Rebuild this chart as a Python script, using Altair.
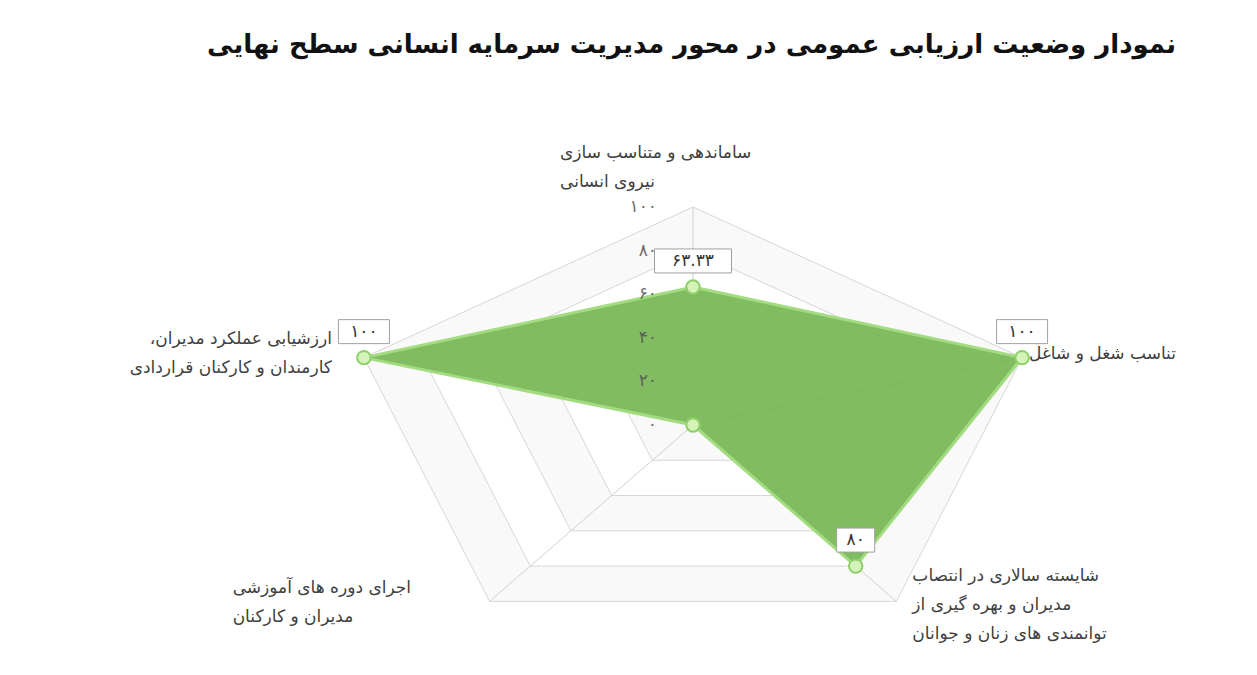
import altair as alt
import pandas as pd

# ---------------- data ----------------
title_text = "نمودار وضعیت ارزیابی  عمومی در محور مدیریت سرمایه انسانی سطح نهایی"
categories = [
    "ساماندهی و متناسب سازی نیروی انسانی",
    "تناسب شغل و شاغل",
    "شایسته سالاری در انتصاب مدیران و بهره گیری از توانمندی های زنان و جوانان",
    "اجرای دوره های آموزشی مدیران و کارکنان",
    "ارزشیابی عملکرد مدیران، کارمندان و کارکنان قراردادی",
]
category_lines = [
    ["ساماندهی و متناسب سازی", "نیروی انسانی"],
    ["تناسب شغل و شاغل"],
    ["شایسته سالاری در انتصاب", "مدیران و بهره گیری از", "توانمندی های زنان و جوانان"],
    ["اجرای دوره های آموزشی", "مدیران و کارکنان"],
    ["ارزشیابی عملکرد مدیران،\u200f", "کارمندان و کارکنان قراردادی"],
]
values = [63.33, 100, 80, 0, 100]
ticks = [0, 20, 40, 60, 80, 100]
rings = [20, 40, 60, 80, 100]

FA = str.maketrans("0123456789", "۰۱۲۳۴۵۶۷۸۹")


def to_fa(v):
    return f"{v:g}".translate(FA)


n = len(categories)
pts = pd.DataFrame({
    "idx": list(range(n)),
    "category": categories,
    "value": values,
    "vlabel": [to_fa(v) for v in values],
    "catlabel": ["\n".join(l) for l in category_lines],
})
grid = pd.DataFrame([{"ring": r, "idx": i} for r in rings for i in range(n)])
tick_df = pd.DataFrame({"tick": ticks, "tlabel": [to_fa(t) for t in ticks]})

# ---------------- layout ----------------
W, H = 1240, 655
cx, cy = 685, 417          # centre in svg pixels
kx, ky = 3.46, 2.18        # pixels per unit (chart is stretched horizontally)
xdom = [-cx / kx, (W - cx) / kx]
ydom = [-(H - cy) / ky, cy / ky]
FONT = "DejaVu Sans"

ANG = f"datum.idx * 2 * PI / {n}"


def X(f):
    return alt.X(f"{f}:Q", scale=alt.Scale(domain=xdom, nice=False, zero=False), axis=None)


def Y(f):
    return alt.Y(f"{f}:Q", scale=alt.Scale(domain=ydom, nice=False, zero=False), axis=None)


layers = []

# grid rings (alternating faint bands)
for k, r in enumerate(sorted(rings, reverse=True)):
    fill = "#f9f9f9" if k % 2 == 0 else "#ffffff"
    layers.append(
        alt.Chart(grid).transform_filter(f"datum.ring == {r}")
        .transform_calculate(gx=f"datum.ring * sin({ANG})", gy=f"datum.ring * cos({ANG})")
        .mark_line(interpolate="linear-closed", fill=fill, stroke="#d6d6d6", strokeWidth=1)
        .encode(x=X("gx"), y=Y("gy"), order="idx:Q")
    )

# spokes
layers.append(
    alt.Chart(pts)
    .transform_calculate(sx=f"100 * sin({ANG})", sy=f"100 * cos({ANG})", zx="0", zy="0")
    .mark_rule(color="#d0d0d0", strokeWidth=1)
    .encode(x=X("zx"), y=Y("zy"), x2="sx:Q", y2="sy:Q")
)

base = alt.Chart(pts).transform_calculate(
    px=f"datum.value * sin({ANG})", py=f"datum.value * cos({ANG})",
    lx=f"100 * sin({ANG})", ly=f"100 * cos({ANG})",
)

# data polygon
layers.append(
    base.mark_line(interpolate="linear-closed", fill="#73b550", fillOpacity=0.9,
                   stroke="#a3dc80", strokeWidth=3)
    .encode(x=X("px"), y=Y("py"), order="idx:Q")
)

# tick labels on the vertical axis
layers.append(
    alt.Chart(tick_df).transform_calculate(zx="0")
    .mark_text(align="right", baseline="middle", dx=-36, fontSize=17, font=FONT, color="#555555", opacity=0.85)
    .encode(x=X("zx"), y=Y("tick"), text="tlabel:N")
)

# data points
layers.append(
    base.mark_point(filled=True, fill="#d3f3b8", stroke="#8fcf6a", strokeWidth=2, size=180, opacity=1)
    .encode(x=X("px"), y=Y("py"))
)

# value label boxes
layers.append(
    base.transform_filter("datum.value > 0")
    .transform_calculate(bw="13 * length(datum.vlabel) + 12")
    .transform_calculate(
        boxpath="'M' + (-datum.bw / 2) + ',-38H' + (datum.bw / 2) + 'V-14H' + (-datum.bw / 2) + 'Z'"
    )
    .mark_point(filled=True, fill="white", stroke="#a0a0a0", strokeWidth=1, size=4, opacity=1)
    .encode(x=X("px"), y=Y("py"), shape=alt.Shape("boxpath:N", scale=None))
)
layers.append(
    base.transform_filter("datum.value > 0")
    .mark_text(dy=-26, baseline="middle", fontSize=17, font=FONT, color="#333333")
    .encode(x=X("px"), y=Y("py"), text="vlabel:N")
)

# category labels
label_layout = [
    dict(align="left", dx=-133, dy=-62),
    dict(align="left", dx=7, dy=-12),
    dict(align="left", dx=16, dy=-33),
    dict(align="left", dx=-257, dy=-21),
    dict(align="right", dx=-32, dy=-27),
]
for i, lay in enumerate(label_layout):
    layers.append(
        base.transform_filter(f"datum.idx == {i}")
        .mark_text(baseline="top", lineBreak="\n", lineHeight=29, fontSize=17, font=FONT,
                   color="#404040", **lay)
        .encode(x=X("lx"), y=Y("ly"), text="catlabel:N")
    )

# title
layers.append(
    alt.Chart(pd.DataFrame({"t": [title_text]}))
    .mark_text(align="right", baseline="middle", fontSize=26, fontWeight="bold", font=FONT, color="#111111")
    .encode(x=alt.value(1168), y=alt.value(37), text="t:N")
)

chart = (
    alt.layer(*layers)
    .properties(width=W, height=H, padding=0, autosize=alt.AutoSizeParams(type="none"), background="white")
    .configure_view(stroke=None)
)

chart.save("out.html", embed_options={"renderer": "svg", "actions": False})
